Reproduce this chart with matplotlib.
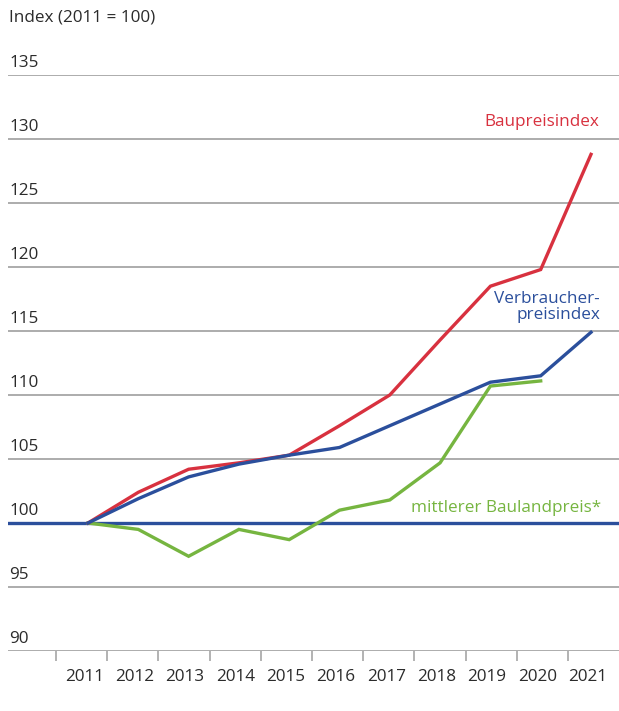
import matplotlib
matplotlib.use("Agg")
import matplotlib.pyplot as plt

plt.rcParams['font.family'] = ['Open Sans', 'DejaVu Sans']

years = [2011, 2012, 2013, 2014, 2015, 2016, 2017, 2018, 2019, 2020, 2021]
baupreis = [100, 102.4, 104.2, 104.7, 105.3, 107.6, 110.0, 114.3, 118.5, 119.8, 128.8]
vpi = [100, 101.9, 103.6, 104.6, 105.3, 105.9, 107.6, 109.3, 111.0, 111.5, 114.9]
bauland_years = [2011, 2012, 2013, 2014, 2015, 2016, 2017, 2018, 2019, 2020]
bauland = [100, 99.5, 97.4, 99.5, 98.7, 101.0, 101.8, 104.7, 110.7, 111.1]
yticks = [90, 95, 100, 105, 110, 115, 120, 125, 130, 135]

RED = '#d8313f'
BLUE = '#2b4f9c'
GREEN = '#76b540'
GRID = '#a6a6a6'
TXT = '#2b2b2b'
FS = 12.3

W, H = 619, 711
fig = plt.figure(figsize=(W / 100, H / 100), dpi=100)
ax = fig.add_axes([8 / W, (H - 651) / H, (W - 8) / W, (651 - 75) / H])

# x scale: 2011 -> px 88, 2021 -> px 591
px_per_year = (591 - 88) / 10
x0 = 2011 - (88 - 8) / px_per_year
x1 = x0 + (W - 8) / px_per_year
ax.set_xlim(x0, x1)
ax.set_ylim(90, 135)

for v in yticks:
    ax.axhline(v, color=GRID, lw=1.3, zorder=1)
    ax.annotate(str(v), xy=(0, v), xycoords=('axes fraction', 'data'),
                xytext=(1, 3), textcoords='offset points', ha='left', va='bottom',
                fontsize=FS, color=TXT)

ax.axhline(100, color=BLUE, lw=2.4, zorder=3)
ax.plot(bauland_years, bauland, color=GREEN, lw=2.4, zorder=4, solid_joinstyle='miter')
ax.plot(years, vpi, color=BLUE, lw=2.4, zorder=5, solid_joinstyle='miter')
ax.plot(years, baupreis, color=RED, lw=2.4, zorder=4, solid_joinstyle='miter')

for s in ax.spines.values():
    s.set_visible(False)
ax.set_yticks([])

tick_px = [56 + 51.2 * k for k in range(11)]
tick_pos = [x0 + (p - 8) / px_per_year for p in tick_px]
ax.set_xticks(tick_pos)
ax.set_xticklabels([])
ax.tick_params(axis='x', length=7, width=1.2, color=GRID, direction='out')
for y in years:
    ax.annotate(str(y), xy=(y - 0.07, 90), xycoords='data', xytext=(0, -13),
                textcoords='offset points', ha='center', va='top', fontsize=FS, color=TXT)

fig.text(9 / W, 1 - 17 / H, 'Index (2011 = 100)', ha='left', va='center', fontsize=FS, color=TXT)

def lab(xpx, ypx, s, c):
    fig.text(xpx / W, 1 - ypx / H, s, ha='right', va='center', fontsize=FS, color=c,
             linespacing=1.05)

lab(599, 122, 'Baupreisindex', RED)
lab(600, 307, 'Verbraucher-\npreisindex', BLUE)
lab(601, 508, 'mittlerer Baulandpreis*', GREEN)

fig.savefig('out.png', dpi=100, facecolor='white')
